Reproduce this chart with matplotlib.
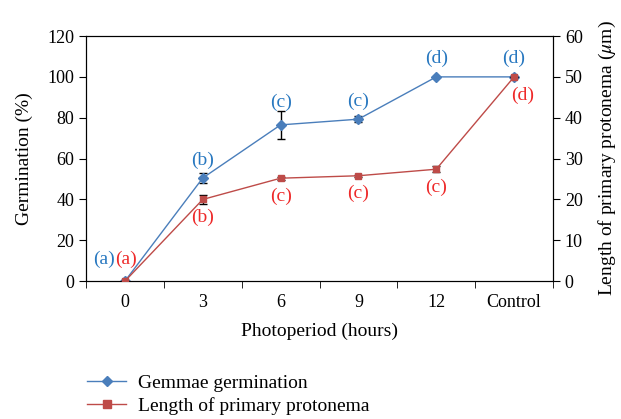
import numpy as np
import matplotlib.pyplot as plt
from matplotlib.lines import Line2D

plt.rcParams['font.family'] = ['Liberation Serif', 'DejaVu Serif']
plt.rcParams['mathtext.fontset'] = 'stix'

categories = ['0', '3', '6', '9', '12', 'Control']
germination = [0, 50.5, 76.5, 79.3, 100, 100]
germination_err = [0, 2.5, 6.8, 1.6, 0, 0]
length = [0, 20, 25.2, 25.8, 27.4, 50]
length_err = [0, 1.0, 0.4, 0.3, 0.8, 0]
germ_letters = ['(a)', '(b)', '(c)', '(c)', '(d)', '(d)']
len_letters = ['(a)', '(b)', '(c)', '(c)', '(c)', '(d)']

blue = '#4a7ebb'
red = '#be4b48'
blue_txt = '#2878c0'
red_txt = '#ee2a2a'

fig = plt.figure(figsize=(6.21, 4.19), dpi=100)
ax = fig.add_axes([0.1385, 0.329, 0.752, 0.585])
ax2 = ax.twinx()

x = np.arange(len(categories))

ax.errorbar(x, germination, yerr=germination_err, color=blue, marker='D',
            markersize=5, lw=1, ecolor='black', elinewidth=1, capsize=3,
            capthick=1, zorder=3)
ax2.errorbar(x, length, yerr=length_err, color=red, marker='s',
             markersize=5, lw=1, ecolor='black', elinewidth=1, capsize=3,
             capthick=1, zorder=3)

ax.set_xlim(-0.5, len(categories) - 0.5)
ax.set_ylim(0, 120)
ax.set_yticks(np.arange(0, 121, 20))
ax2.set_ylim(0, 60)
ax2.set_yticks(np.arange(0, 61, 10))

ax.set_xticks(x)
ax.set_xticklabels(categories)
ax.set_xticks(np.arange(-0.5, len(categories), 1), minor=True)
ax.tick_params(axis='x', which='major', length=0, pad=9)
ax.tick_params(axis='x', which='minor', length=5, direction='out')
ax.tick_params(axis='y', length=5, direction='out')
ax2.tick_params(axis='y', length=5, direction='out')
for a in (ax, ax2):
    a.tick_params(labelsize=13)

ax.set_xlabel('Photoperiod (hours)', fontsize=14, labelpad=9)
ax.set_ylabel('Germination (%)', fontsize=14, labelpad=10)
ax2.set_ylabel(r'Length of primary protonema ($\mu$m)', fontsize=14, labelpad=10)

# letters
for i in range(len(categories)):
    if i == 0:
        ax.annotate(germ_letters[i], (x[i], germination[i]), xytext=(-15, 16),
                    textcoords='offset points', ha='center', va='center',
                    color=blue_txt, fontsize=14)
        ax2.annotate(len_letters[i], (x[i], length[i]), xytext=(1, 16),
                     textcoords='offset points', ha='center', va='center',
                     color=red_txt, fontsize=14)
        continue
    up = 16 if i == 2 else 13
    ax.annotate(germ_letters[i], (x[i], germination[i]), xytext=(0, up),
                textcoords='offset points', ha='center', va='center',
                color=blue_txt, fontsize=14)
    dx = 6 if i == len(categories) - 1 else 0
    ax2.annotate(len_letters[i], (x[i], length[i]), xytext=(dx, -13),
                 textcoords='offset points', ha='center', va='center',
                 color=red_txt, fontsize=14)

handles = [Line2D([], [], color=blue, marker='D', markersize=5, lw=1),
           Line2D([], [], color=red, marker='s', markersize=6, lw=1)]
fig.legend(handles, ['Gemmae germination', 'Length of primary protonema'],
           loc='upper left', bbox_to_anchor=(0.125, 0.13), frameon=False,
           fontsize=14, handlelength=2.0, handletextpad=0.6,
           labelspacing=0.25, borderpad=0)

fig.savefig('out.png', dpi=100)
